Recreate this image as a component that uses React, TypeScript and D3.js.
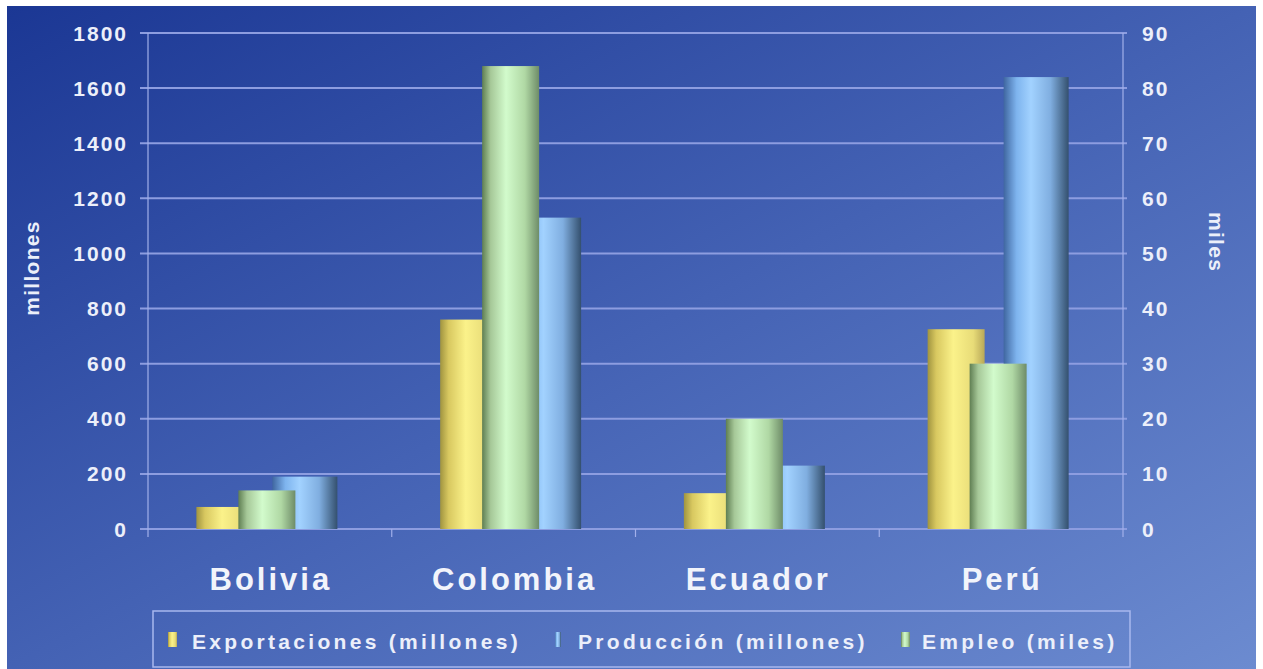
import React from "react";
import * as d3 from "d3";

const categories = ["Bolivia", "Colombia", "Ecuador", "Perú"];
const exportaciones = [80, 760, 130, 725]; // millones (left axis)
const produccion = [190, 1130, 230, 1640]; // millones (left axis)
const empleo = [7, 84, 20, 30]; // miles (right axis)
const leftTicks = [0, 200, 400, 600, 800, 1000, 1200, 1400, 1600, 1800];
const rightTicks = [0, 10, 20, 30, 40, 50, 60, 70, 80, 90];
const legendLabels = ["Exportaciones (millones)", "Producción (millones)", "Empleo (miles)"];

const W = 1263;
const H = 669;
const font = "'Liberation Sans', Arial, sans-serif";

export default function App() {
  const x0 = d3.scaleBand<string>().domain(categories).range([148, 1123]).padding(0);
  const offset = d3.scalePoint<string>().domain(["exp", "emp", "prod"]).range([-42, 42]);
  const yL = d3.scaleLinear().domain([0, 1800]).range([529, 33]);
  const yR = d3.scaleLinear().domain([0, 90]).range([529, 33]);
  const bw = 57;
  const cx = (c: string) => (x0(c) as number) + x0.bandwidth() / 2 - 3;

  const barRect = (c: string, key: string, top: number, fill: string, extraLeft = 0) => {
    const center = cx(c) + (offset(key) as number);
    return (
      <g key={c + key}>
        <rect x={center - bw / 2 - extraLeft} y={top} width={bw + extraLeft} height={529 - top} fill={fill} />
      </g>
    );
  };

  const tickColor = "#eceffa";
  const gridColor = "#8d9de0";

  return (
    <svg width={W} height={H} style={{ position: "absolute", left: 0, top: 0 }} fontFamily={font}>
      <defs>
        <linearGradient id="bg" x1="0" y1="0" x2="1" y2="1">
          <stop offset="0" stopColor="#1b3794" />
          <stop offset="0.5" stopColor="#4462b4" />
          <stop offset="1" stopColor="#6c8bd0" />
        </linearGradient>
        <linearGradient id="gY" x1="0" y1="0" x2="1" y2="0">
          <stop offset="0" stopColor="#a09440" />
          <stop offset="0.15" stopColor="#d8c860" />
          <stop offset="0.45" stopColor="#fbf28a" />
          <stop offset="0.8" stopColor="#e8dc78" />
          <stop offset="1" stopColor="#b8a858" />
        </linearGradient>
        <linearGradient id="gG" x1="0" y1="0" x2="1" y2="0">
          <stop offset="0" stopColor="#5f7e52" />
          <stop offset="0.15" stopColor="#a6c898" />
          <stop offset="0.42" stopColor="#d2fbcc" />
          <stop offset="0.75" stopColor="#b0d8a4" />
          <stop offset="1" stopColor="#6e8c68" />
        </linearGradient>
        <linearGradient id="gB" x1="0" y1="0" x2="1" y2="0">
          <stop offset="0" stopColor="#3f66a0" />
          <stop offset="0.2" stopColor="#7eb4ee" />
          <stop offset="0.42" stopColor="#a2d2ff" />
          <stop offset="0.72" stopColor="#80aee0" />
          <stop offset="1" stopColor="#34506e" />
        </linearGradient>
      </defs>
      <rect x={0} y={0} width={W} height={H} fill="#ffffff" />
      <rect x={7} y={6} width={1249} height={H - 6} fill="url(#bg)" />

      {/* gridlines */}
      {leftTicks.map((t) => (
        <line key={"g" + t} x1={140} x2={1127} y1={yL(t)} y2={yL(t)} stroke={gridColor} strokeWidth={2} />
      ))}
      {/* axes */}
      <line x1={148} x2={148} y1={33} y2={537} stroke="#a2b0ea" strokeWidth={1.2} />
      <line x1={1123} x2={1123} y1={33} y2={537} stroke="#a2b0ea" strokeWidth={1.2} />
      {categories.slice(1).map((c) => (
        <line key={"t" + c} x1={x0(c) as number} x2={x0(c) as number} y1={529} y2={537} stroke="#a2b0ea" strokeWidth={1.2} />
      ))}

      {/* bars: back (blue), yellow, then green in front */}
      {categories.map((c, i) => barRect(c, "prod", yL(produccion[i]), "url(#gB)", 8))}
      {categories.map((c, i) => barRect(c, "exp", yL(exportaciones[i]), "url(#gY)"))}
      {categories.map((c, i) => barRect(c, "emp", yR(empleo[i]), "url(#gG)"))}

      {/* left ticks */}
      {leftTicks.map((t) => (
        <text key={"l" + t} x={128} y={yL(t) + 7.5} textAnchor="end" fill={tickColor} fontSize={21} fontWeight="bold" letterSpacing={2}>
          {t}
        </text>
      ))}
      {/* right ticks */}
      {rightTicks.map((t) => (
        <text key={"r" + t} x={1142} y={yR(t) + 7.5} textAnchor="start" fill={tickColor} fontSize={21} fontWeight="bold" letterSpacing={2}>
          {t}
        </text>
      ))}
      {/* axis titles */}
      <text transform="translate(39,268) rotate(-90)" textAnchor="middle" fill={tickColor} fontSize={21} fontWeight="bold" letterSpacing={1.3}>
        millones
      </text>
      <text transform="translate(1209,242) rotate(90)" textAnchor="middle" fill={tickColor} fontSize={21} fontWeight="bold" letterSpacing={1.3}>
        miles
      </text>

      {/* category labels */}
      {categories.map((c) => (
        <text key={"c" + c} x={(x0(c) as number) + x0.bandwidth() / 2 + 1} y={590} textAnchor="middle" fill="#f2f4fb" fontSize={31} fontWeight="bold" letterSpacing={3}>
          {c}
        </text>
      ))}

      {/* legend */}
      <rect x={153} y={611} width={977} height={56} fill="none" stroke="#a8b8ee" strokeWidth={1.5} />
      <rect x={168} y={632} width={9} height={15} fill="url(#gY)" />
      <text x={192} y={649} fill={tickColor} fontSize={21} fontWeight="bold" letterSpacing={3.3}>
        {legendLabels[0]}
      </text>
      <rect x={555} y={632} width={6} height={15} fill="url(#gB)" />
      <text x={578} y={649} fill={tickColor} fontSize={21} fontWeight="bold" letterSpacing={3.3}>
        {legendLabels[1]}
      </text>
      <rect x={901} y={632} width={9} height={15} fill="url(#gG)" />
      <text x={922} y={649} fill={tickColor} fontSize={21} fontWeight="bold" letterSpacing={3.3}>
        {legendLabels[2]}
      </text>
    </svg>
  );
}
